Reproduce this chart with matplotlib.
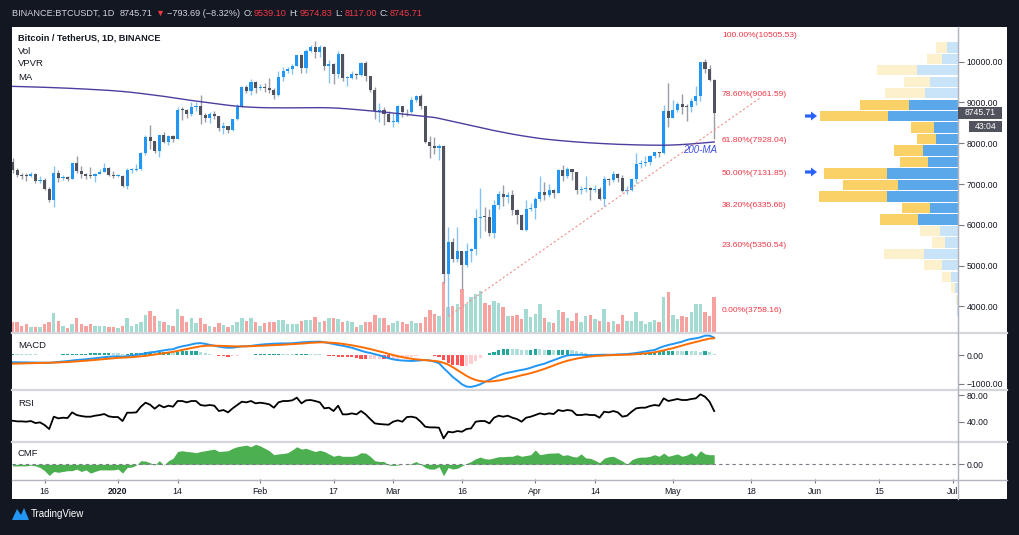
import numpy as np
import matplotlib
matplotlib.use("Agg")
import matplotlib.pyplot as plt
from matplotlib.lines import Line2D
from matplotlib.patches import Rectangle, Polygon, FancyArrow
from matplotlib.transforms import IdentityTransform

plt.rcParams['font.family'] = ['Liberation Sans', 'DejaVu Sans']

# ---------------- data ----------------
dates = np.arange(np.datetime64('2019-12-09'), np.datetime64('2020-05-11'), dtype='datetime64[D]')
first_open = 7550
close = np.array([
    7340, 7225, 7205, 7190, 7250, 7065, 7110, 6880, 6615, 7280,
    7145, 7185, 7130, 7510, 7320, 7255, 7205, 7195, 7245, 7300,
    7385, 7220, 7195,
    7200, 6965, 7345, 7355, 7358, 7760, 8155, 8045, 7815, 8200,
    8020, 8185, 8110, 8815, 8810, 8720, 8900, 8915, 8700, 8630,
    8725, 8660, 8385, 8430, 8330, 8595, 8900, 9390, 9285, 9505, 9350,
    9385, 9345, 9295, 9180, 9615, 9765, 9810, 9905, 10165, 9855,
    10270, 10350, 10240, 10370, 9905, 9935, 9700, 10185, 9595, 9600,
    9690, 9665, 9965, 9655, 9315, 8785, 8825, 8710, 8525,
    8530, 8915, 8760, 8755, 9065, 9155, 8905, 8035, 7935, 7885,
    7935, 4800, 5580, 5165, 5355, 5015, 5360, 5410, 6180, 6200,
    6185, 5810, 6490, 6760, 6675, 6735, 6375, 6250, 5880, 6395, 6410,
    6640, 6795, 6735, 6860, 6775, 7335, 7200, 7365, 7300, 6865,
    6890, 6915, 6860, 6880, 6625, 7120, 7100, 7255, 7150, 6840,
    6850, 7125, 7485, 7505, 7540, 7695, 7775, 7760, 8785, 8620,
    8825, 8965, 8895, 8885, 9030, 9150, 9985, 9810, 9540, 8745.71])
high = np.array([
    7630, 7400, 7270, 7265, 7290, 7270, 7200, 7140, 6940, 7440,
    7350, 7225, 7190, 7520, 7700, 7440, 7270, 7430, 7270, 7365,
    7515, 7410, 7320,
    7255, 7215, 7405, 7405, 7495, 7795, 8210, 8455, 8055, 8195,
    8285, 8200, 8200, 8880, 8900, 8850, 9010, 9000, 9190, 8740,
    8770, 8790, 8670, 8515, 8435, 8600, 8975, 9400, 9435, 9575, 9525,
    9455, 9470, 9600, 9345, 9775, 9860, 9880, 9950, 10165, 10200,
    10300, 10420, 10500, 10400, 10385, 10050, 9965, 10250, 10190, 9660,
    9770, 9720, 9990, 10025, 9660, 9375, 8980, 8900, 8800,
    8750, 8950, 8920, 8850, 9140, 9180, 9215, 8910, 8180, 8150,
    7985, 7965, 5955, 5670, 5945, 5365, 5550, 5440, 6390, 6900,
    6450, 6400, 6600, 6840, 6980, 6800, 6860, 6380, 6260, 6600, 6525,
    6680, 7200, 7050, 6990, 6880, 7360, 7470, 7420, 7380, 7305,
    6950, 7190, 6925, 6980, 6935, 7200, 7150, 7310, 7265, 7225,
    6950, 7150, 7750, 7600, 7700, 7720, 7795, 7780, 8950, 9470,
    9065, 9010, 9200, 8955, 9110, 9395, 9990, 10065, 9915, 9574.83])
low = np.array([
    7270, 7170, 7125, 7080, 7180, 7030, 7020, 6850, 6560, 6435,
    7040, 7100, 7085, 7120, 7260, 7155, 7130, 7160, 7060, 7235,
    7285, 7210, 7145,
    7175, 6925, 6870, 7270, 7320, 7345, 7725, 7870, 7750, 7670,
    8000, 7965, 8030, 8100, 8570, 8610, 8670, 8780, 8470, 8520,
    8490, 8590, 8300, 8220, 8250, 8290, 8560, 8880, 9230, 9190, 9225,
    9300, 9250, 9230, 9085, 9165, 9535, 9720, 9700, 9890, 9730,
    9730, 10240, 10080, 10125, 9800, 9470, 9450, 9605, 9530, 9400,
    9570, 9570, 9650, 9520, 9250, 8600, 8530, 8450, 8520,
    8410, 8500, 8650, 8660, 8750, 9000, 8850, 8000, 7630, 7730,
    7590, 4575, 3760, 5090, 5100, 4440, 4965, 5090, 5260, 5670,
    5860, 5730, 5690, 6380, 6465, 6535, 6250, 6030, 5870, 5860, 6330,
    6150, 6590, 6600, 6675, 6670, 6770, 7080, 7150, 7110, 6750,
    6765, 6810, 6600, 6795, 6615, 6470, 6985, 7040, 7050, 6795,
    6760, 6825, 7025, 7400, 7440, 7460, 7640, 7660, 7735, 8400,
    8620, 8760, 8710, 8540, 8760, 8940, 9030, 9715, 9520, 8117])
volume = np.array([  # thousand BTC
    53, 53, 37, 45, 32, 32, 32, 45, 57, 98,
    58, 37, 25, 45, 73, 45, 33, 43, 37, 33,
    37, 32, 28,
    23, 37, 73, 37, 45, 57, 92, 112, 87, 62,
    57, 40, 37, 120, 87, 53, 73, 50, 73, 45,
    37, 28, 50, 40, 28, 40, 57, 75, 62, 73, 53,
    33, 50, 57, 57, 67, 67, 45, 45, 45, 62,
    65, 65, 82, 53, 62, 73, 73, 70, 53, 62,
    53, 28, 40, 57, 57, 90, 73, 73, 40,
    50, 62, 57, 45, 62, 48, 48, 78, 117, 95,
    83, 253, 130, 135, 145, 220, 145, 178, 195, 210,
    150, 140, 160, 150, 130, 85, 85, 90, 70, 120, 80,
    95, 145, 75, 55, 50, 115, 105, 75, 60, 100,
    55, 85, 90, 70, 60, 120, 55, 60, 45, 90,
    60, 60, 105, 60, 45, 55, 65, 55, 180, 205,
    90, 70, 85, 80, 105, 145, 145, 105, 85, 180])
ma200 = np.array([
    9395, 9392, 9389, 9386, 9383, 9380, 9376, 9372, 9368, 9364,
    9360, 9355, 9350, 9345, 9340, 9334, 9328, 9322, 9316, 9310,
    9303, 9296, 9288, 9280, 9270, 9260, 9248, 9236, 9222, 9208,
    9194, 9180, 9166, 9150, 9134, 9117, 9100, 9083, 9066, 9050,
    9035, 9020, 9005, 8990, 8975, 8960, 8945, 8932, 8920, 8908,
    8898, 8890, 8884, 8879, 8875, 8872, 8870, 8869, 8868, 8868,
    8868, 8869, 8870, 8871, 8872, 8873, 8873, 8873, 8872, 8870,
    8866, 8860, 8853, 8845, 8836, 8826, 8816, 8806, 8796, 8786,
    8775, 8764, 8753, 8742, 8730, 8718, 8706, 8694, 8682, 8670,
    8658, 8645, 8632, 8610, 8585, 8560, 8535, 8510, 8485, 8460,
    8435, 8410, 8385, 8360, 8335, 8312, 8290, 8268, 8246, 8225,
    8205, 8186, 8168, 8150, 8134, 8118, 8104, 8092, 8080, 8070,
    8060, 8050, 8041, 8032, 8024, 8017, 8010, 8003, 7997, 7991,
    7985, 7980, 7975, 7971, 7967, 7964, 7961, 7958, 7956, 7954,
    7953, 7952, 7952, 7954, 7958, 7963, 7969, 7976, 7984, 7993,
    8002, 8012, 8022, 8032])
macd = np.array([
    -250, -252, -255, -257, -258, -260, -262, -265, -270, -255,
    -240, -225, -210, -190, -172, -160, -148, -130, -112, -95, -78, -60,
    -50, -45, -55, -40, -20, 0, 25, 57,
    90, 105, 135, 160, 185, 200, 260, 300, 330, 365,
    400, 410, 385, 350, 320, 290, 265, 250, 255, 275,
    300, 300, 315, 335, 355, 370, 380, 390, 395, 400,
    400, 405, 420, 435, 445, 455, 460, 462, 440, 410,
    380, 345, 320, 285, 250, 200, 150, 100, 70, 30,
    -10, -60, -110, -150, -175, -190, -200, -207, -195, -180,
    -172, -190, -230, -280, -450, -600, -760, -880, -1010, -1090,
    -1100, -1065, -1010, -930, -860, -780, -710, -650, -610, -580,
    -545, -515, -485, -440, -385, -340, -300, -235, -180, -120,
    -60, -15, 0, 5, 10, 0, -5, 0, 5, 10,
    5, 10, 20, 25, 34, 50, 70, 95, 120, 150,
    172, 240, 300, 345, 380, 420, 460, 517, 552, 575,
    610, 667, 670, 600])
signal = np.array([
    -300, -296, -292, -288, -284, -280, -276, -272, -268, -262,
    -257, -250, -242, -232, -220, -208, -196, -184, -170, -155, -140, -125,
    -110, -98, -90, -83, -74, -60, -45, -30,
    -5, 15, 40, 60, 85, 110, 140, 175, 205, 240,
    270, 300, 315, 322, 322, 318, 312, 305, 300, 298,
    298, 300, 303, 310, 318, 325, 333, 340, 345, 355,
    365, 375, 385, 395, 405, 420, 430, 437, 437, 430,
    420, 405, 385, 360, 335, 305, 275, 240, 205, 165,
    125, 85, 40, 0, -40, -75, -105, -130, -150, -165,
    -178, -190, -205, -225, -270, -330, -420, -520, -620, -720,
    -800, -860, -900, -915, -915, -900, -880, -850, -815, -780,
    -740, -700, -665, -625, -580, -530, -480, -420, -360, -300,
    -245, -200, -160, -125, -95, -70, -50, -35, -25, -15,
    -8, -2, 2, 5, 10, 18, 28, 40, 55, 72,
    92, 125, 160, 200, 235, 280, 325, 370, 410, 450,
    490, 530, 565, 580])
rsi = np.array([
    41.5, 40.5, 40.5, 40, 41, 38, 39, 35, 29, 47.5,
    45, 46, 45.5, 54, 50, 48.5, 47.5, 47.5, 49, 50,
    51.5, 48, 47, 47, 41, 53.5, 53.5, 54, 62.5, 68.5,
    65.5, 59.5, 65, 61.5, 64, 62.5, 71, 71, 69, 71,
    71, 65, 64, 65, 64, 56, 57.5, 54, 60, 65,
    70, 69, 71, 67.5, 68.5, 67.5, 66, 61, 69, 71,
    71, 72, 76, 67.5, 72, 72.5, 71, 69, 60, 61,
    56, 64, 51, 51, 52.5, 51, 56, 51, 44, 37.5,
    36.5, 36, 35.5, 40, 42, 40, 47, 47.5, 46, 40,
    32.5, 31.5, 31.5, 31, 15, 25, 24, 26, 25, 29,
    30, 40, 41, 41, 37.5, 46, 49, 47.5, 49, 46,
    44, 40, 46, 47.5, 50, 52.5, 51, 52.5, 51.5, 57.5,
    56, 57.5, 56.5, 50, 50, 51, 50, 50, 46, 55,
    54, 56, 54, 47.5, 49, 55, 60, 61, 61, 63.5,
    65, 64, 75, 71, 72.5, 74, 72.5, 72.5, 74, 75,
    81, 77.5, 70, 56])
cmf = np.array([
    -0.02, -0.02, -0.02, -0.02, -0.01, -0.02, -0.04, -0.08, -0.14, -0.09,
    -0.10, -0.09, -0.08, -0.08, -0.06, -0.09, -0.07, -0.11, -0.09, -0.07,
    -0.07, -0.07, -0.07, -0.06, -0.11, -0.04, -0.035, -0.01, 0.045, 0.04,
    0.02, -0.01, 0.045, -0.01, 0.045, 0.075, 0.16, 0.17, 0.16, 0.155,
    0.145, 0.16, 0.17, 0.18, 0.19, 0.16, 0.165, 0.17, 0.2, 0.22,
    0.23, 0.24, 0.22, 0.25, 0.23, 0.2, 0.17, 0.12, 0.13, 0.135,
    0.145, 0.18, 0.22, 0.19, 0.2, 0.18, 0.16, 0.175, 0.16, 0.13,
    0.1, 0.115, 0.1, 0.1, 0.1, 0.11, 0.145, 0.14, 0.1, 0.045,
    0.035, 0.035, -0.01, -0.015, -0.01, 0, 0, 0.01, 0.035, 0,
    -0.04, -0.06, -0.06, -0.03, -0.145, -0.04, -0.06, -0.05, -0.02, 0.01,
    0.035, 0.07, 0.09, 0.07, 0.065, 0.08, 0.095, 0.095, 0.1, 0.1,
    0.12, 0.1, 0.11, 0.12, 0.18, 0.12, 0.13, 0.14, 0.14, 0.145,
    0.11, 0.12, 0.1, 0.09, 0.13, 0.08, 0.075, 0.05, 0.02, 0.075,
    0.095, 0.1, 0.07, 0.04, 0.0, 0.055, 0.08, 0.09, 0.09, 0.1,
    0.12, 0.1, 0.14, 0.1, 0.115, 0.13, 0.1, 0.115, 0.145, 0.1,
    0.17, 0.13, 0.12, 0.12])

tick_dates = np.array(['2019-12-16', '2020-01-01', '2020-01-14', '2020-02-01', '2020-02-17',
                       '2020-03-01', '2020-03-16', '2020-04-01', '2020-04-14', '2020-05-01',
                       '2020-05-18', '2020-06-01', '2020-06-15', '2020-07-01'], dtype='datetime64[D]')
tick_labels = ['16', '2020', '14', 'Feb', '17', 'Mar', '16', 'Apr', '14', 'May', '18', 'Jun', '15', 'Jul']

price_ticks = [4000, 5000, 6000, 7000, 8000, 9000, 10000]
fib_pcts = ['100.00%', '78.60%', '61.80%', '50.00%', '38.20%', '23.60%', '0.00%']
fib_prices = [10505.53, 9061.59, 7928.04, 7131.85, 6335.66, 5350.54, 3758.16]
trend_dates = np.array(['2020-03-13', '2020-05-20'], dtype='datetime64[D]')
trend_prices = [3758.16, 9110]

# volume profile rows (bottom -> top), thousand BTC
vp_up = [5, 10, 33, 73, 160, 343, 133, 183, 400, 283, 706, 603,
         706, 300, 353, 223, 240, 696, 490, 333, 283, 413, 160, 110]
vp_down = [0, 13, 40, 87, 183, 400, 130, 200, 383, 280, 687, 547,
           637, 283, 290, 190, 233, 680, 486, 393, 260, 393, 146, 113]
vp_value_area = (8, 18)

# ---------------- layout helpers ----------------
W, H = 1019, 535
fig = plt.figure(figsize=(W / 100, H / 100), dpi=100)
fig.patch.set_facecolor('#131722')


def fr(x, y):
    return (x / W, 1 - y / H)


def axes_px(x0, y0, x1, y1):
    return fig.add_axes([x0 / W, 1 - y1 / H, (x1 - x0) / W, (y1 - y0) / H])


def fline(xs, ys, **kw):
    fig.add_artist(Line2D([v / W for v in xs], [1 - v / H for v in ys],
                          transform=fig.transFigure, **kw))


fig.add_artist(Rectangle(fr(12, 499), 995 / W, 472 / H, transform=fig.transFigure,
                         facecolor='white', edgecolor='none', zorder=0))

x = (dates - dates[0]).astype(int)
XL = (-0.11, 206.17)
X0, X1 = 12, 958


def style(a, yt=None, yl=None):
    a.set_xlim(XL)
    a.patch.set_alpha(0)
    for s in ['top', 'left', 'bottom']:
        a.spines[s].set_visible(False)
    a.spines['right'].set_color('#B2B5BE')
    a.set_xticks([])
    a.yaxis.tick_right()
    if yt is not None:
        a.set_yticks(yt)
        a.set_yticklabels(yl)
    else:
        a.set_yticks([])
    a.tick_params(axis='y', length=4, width=0.8, color='#787B86', labelsize=6.2,
                  labelcolor='#131722', pad=2)


PRICE_LIM = (3350, 10850)

# volume
vax = axes_px(X0, 27, X1, 333)
style(vax)
vax.spines['right'].set_visible(False)
open_ = np.concatenate([[first_open], close[:-1]])
up = close >= open_
vax.bar(x, volume, width=0.75, color=np.where(up, '#A3DAD2', '#F5A2A0'), zorder=1)
vax.set_ylim(0, 1530)
vax.set_zorder(1)

# volume profile
pax = axes_px(X0, 27, X1, 333)
style(pax)
pax.spines['right'].set_visible(False)
pax.set_xlim(9460, 0)
pax.set_ylim(*PRICE_LIM)
rowh = (fib_prices[0] - fib_prices[-1]) / len(vp_up)
for k in range(len(vp_up)):
    inva = vp_value_area[0] <= k <= vp_value_area[1]
    cb = '#5AA8EA' if inva else '#C9E3F8'
    cy = '#F9D167' if inva else '#FDF0CD'
    yb = fib_prices[-1] + k * rowh
    pax.barh(yb, vp_up[k], height=rowh * 0.9, left=0, align='edge', color=cb, lw=0)
    pax.barh(yb, vp_down[k], height=rowh * 0.9, left=vp_up[k], align='edge', color=cy, lw=0)
pax.set_zorder(2)

# price
ax = axes_px(X0, 27, X1, 333)
style(ax, price_ticks, ['%.2f' % p for p in price_ticks])
ax.set_ylim(*PRICE_LIM)
ax.set_zorder(3)
ax.vlines(x[up], low[up], high[up], color='#86C2F5', lw=1, zorder=2)
ax.vlines(x[~up], low[~up], high[~up], color='#9A9DA5', lw=1, zorder=2)
bb = np.minimum(open_, close)
bh = np.maximum(np.abs(close - open_), 22)
ax.bar(x[up], bh[up], bottom=bb[up], width=0.68, color='#2196F3', zorder=3)
ax.bar(x[~up], bh[~up], bottom=bb[~up], width=0.68, color='#50535E', zorder=3)
ax.plot(x, ma200, color='#4A3F9F', lw=1, zorder=4)
tx = (trend_dates - dates[0]).astype(int)
ax.plot(tx, trend_prices, color='#F29090', lw=0.8, ls=(0, (2, 2)), zorder=4)
for pct, p in zip(fib_pcts, fib_prices):
    ax.annotate('%s(%.2f)' % (pct, p), xy=(0.7505, p), xycoords=('axes fraction', 'data'),
                xytext=(0, 1.5), textcoords='offset points', color='#F23645',
                fontsize=6.1, va='bottom', ha='left')

# MACD
mx = axes_px(X0, 333, X1, 390)
style(mx, [0, -1000], ['0.00', '\u22121000.00'])
mx.set_ylim(-1207, 759)
hist = macd - signal
prev = np.concatenate([[hist[0]], hist[:-1]])
hcol = np.where(hist >= 0, np.where(hist >= prev, '#26A69A', '#B2DFDB'),
                np.where(hist < prev, '#FF5252', '#FFCDD2'))
mx.bar(x, hist, width=0.7, color=hcol)
mx.plot(x, macd, color='#2196F3', lw=1.4)
mx.plot(x, signal, color='#FF6D00', lw=1.4)

# RSI
rx = axes_px(X0, 390, X1, 442)
style(rx, [40, 80], ['40.00', '80.00'])
rx.set_ylim(9.6, 87.5)
rx.plot(x, rsi, color='black', lw=1.3)

# CMF
cx = axes_px(X0, 442, X1, 479)
style(cx, [0], ['0.00'])
cx.set_ylim(-0.184, 0.279)
cx.fill_between(x, cmf, 0, color='#4CAF50', lw=0)
cx.axhline(0, color='#787B86', ls=(0, (3, 3)), lw=0.8)
cx.set_xticks((tick_dates - dates[0]).astype(int))
cx.set_xticklabels(tick_labels)
cx.tick_params(axis='x', length=3, width=0.8, color='#787B86', labelsize=6.3,
               labelcolor='#131722', pad=3)
for lab in cx.get_xticklabels():
    if lab.get_text() == '2020':
        lab.set_fontweight('bold')

# frame lines
for yy in (333, 390, 442):
    fline([12, 1007], [yy, yy], color='#D4D6DC', lw=1.6, zorder=5)
fline([12, 1007], [479.5, 479.5], color='#B2B5BE', lw=1, zorder=5)
fline([958, 958], [27, 499], color='#B2B5BE', lw=1, zorder=5)

# texts
fig.text(*fr(18, 38), 'Bitcoin / TetherUS, 1D, BINANCE', fontsize=6.6, fontweight='bold',
         color='#131722', va='center')
for t, yy in (('Vol', 51), ('VPVR', 64), ('MA', 77)):
    fig.text(*fr(18, yy), t, fontsize=6.8, color='#131722', va='center')
for t, yy in (('MACD', 346), ('RSI', 403), ('CMF', 453)):
    fig.text(*fr(18, yy), t, fontsize=6.8, color='#131722', va='center')
fig.text(*fr(683, 150), '200-MA', fontsize=7, color='#3D4FE0', style='italic', va='center')

# blue arrows (pixel coordinates)
for yy in (116, 172):
    fig.add_artist(FancyArrow(805, H - yy, 12, 0, width=3.2, head_width=9, head_length=6,
                              length_includes_head=True, transform=IdentityTransform(),
                              color='#2962FF', lw=0))

# last price boxes
fig.add_artist(Rectangle(fr(958, 118.5), 44 / W, 11.5 / H, transform=fig.transFigure,
                         facecolor='#50535E', edgecolor='none', zorder=6))
fig.text(*fr(980, 112.8), '8745.71', fontsize=6.2, color='white', ha='center', va='center', zorder=7)
fig.add_artist(Rectangle(fr(969, 132.3), 33 / W, 11.5 / H, transform=fig.transFigure,
                         facecolor='#50535E', edgecolor='none', zorder=6))
fig.text(*fr(985.5, 126.5), '43:04', fontsize=6.2, color='white', ha='center', va='center', zorder=7)

# header (laid out left to right)
WH, RD = '#D1D4DC', '#F23645'
header = [('BINANCE:BTCUSDT, 1D', WH, 5), ('8745.71', WH, 3), ('\u25BC', RD, 3),
          ('\u2212793.69 (\u22128.32%)', WH, 3), ('O:', WH, 1), ('9539.10', RD, 3),
          ('H:', WH, 1), ('9574.83', RD, 3), ('L:', WH, 1), ('8117.00', RD, 3),
          ('C:', WH, 1), ('8745.71', RD, 0)]
renderer = fig.canvas.get_renderer()
hx = 12
for s, c, gap in header:
    t = fig.text(*fr(hx, 13), s, fontsize=6.6, color=c, va='center', ha='left')
    hx += t.get_window_extent(renderer).width + gap

# TradingView logo
fig.add_artist(Polygon([fr(12, 520), fr(17, 509), fr(21, 515), fr(24, 508), fr(29, 520)],
                       closed=True, transform=fig.transFigure, facecolor='#2196F3',
                       edgecolor='none'))
fig.text(*fr(31, 514), 'TradingView', fontsize=7, color='white', va='center')

fig.savefig('out.png', dpi=100, facecolor=fig.get_facecolor())
